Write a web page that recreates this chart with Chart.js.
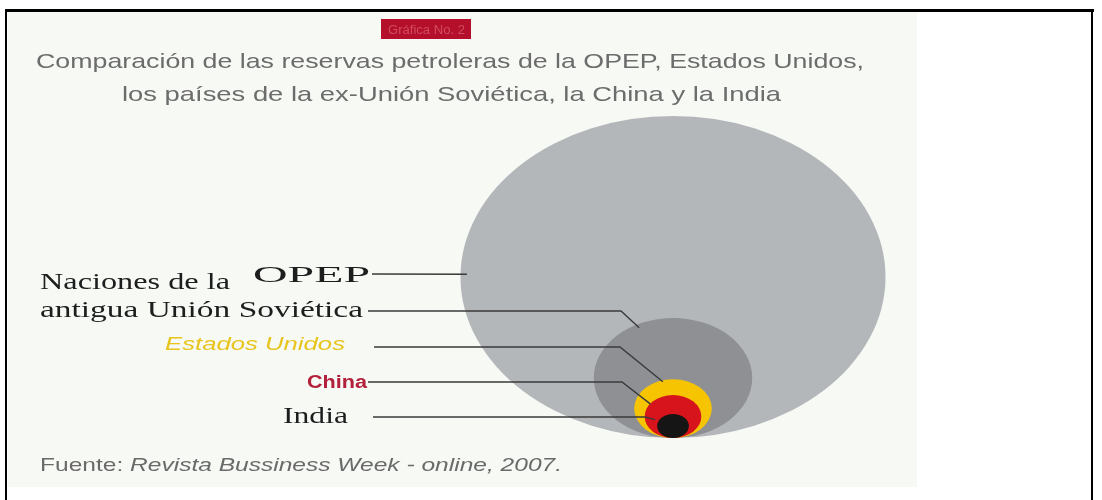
<!DOCTYPE html>
<html lang="es">
<head>
<meta charset="utf-8">
<title>Gráfica No. 2</title>
<script src="https://cdn.jsdelivr.net/npm/chart.js@4.4.1/dist/chart.umd.min.js"></script>
<style>
  html, body { margin: 0; padding: 0; background: #fff; }
  #wrap { width: 1102px; height: 500px; }
</style>
</head>
<body>
<div id="wrap"><canvas id="reservas" width="1102" height="500"></canvas></div>
<script>
// datos (reservas en miles de millones de barriles, leidos por el area de cada circulo)
const categories = ['OPEP', 'Naciones de la antigua Unión Soviética', 'Estados Unidos', 'China', 'India'];
const reserves = [900, 125, 30, 16, 5];
const bubbleColors = ['#b4b7ba', '#8e9093', '#f6c400', '#d7131c', '#151515'];
const badgeText = 'Gráfica No. 2';
const titleLines = [
  'Comparación de las reservas petroleras de la OPEP, Estados Unidos,',
  'los países de la ex-Unión Soviética, la China y la India'
];
const sourceLabel = 'Fuente:';
const sourceText = 'Revista Bussiness Week - online, 2007.';

// layout
const W = 1102, H = 500;
const CX = 673;        // centro horizontal de los circulos
const BASE_Y = 438;    // linea donde se tocan todos los circulos
const MAX_R = 161;     // radio del circulo mayor
const SX = 1.32;       // la imagen original esta estirada a lo ancho
const SERIF = '"Liberation Serif", "DejaVu Serif", serif';
const SANS = '"Liberation Sans", Arial, sans-serif';

const radii = reserves.map(v => MAX_R * Math.sqrt(v / reserves[0]));

// cajas de texto de las etiquetas y sus lineas guia
const labelLayout = [
  { lines: [['OPEP', 253, 282, 117]], font: '24px ' + SERIF, color: '#1d1d1d',
    from: [372, 274], elbow: null, angle: 181, k: 0.97 },
  { lines: [['Naciones de la', 40, 289, 190], ['antigua Unión Soviética', 40, 317, 323]],
    font: '24px ' + SERIF, color: '#1d1d1d', from: [368, 311], elbow: 621, angle: 243, k: 0.94 },
  { lines: [['Estados Unidos', 165, 350, 180]], font: 'italic 18px ' + SANS, color: '#e8c41c',
    from: [374, 347], elbow: 620, angle: 254, k: 0.95 },
  { lines: [['China', 307, 388, 60]], font: 'bold 18px ' + SANS, color: '#b2203a',
    from: [368, 382], elbow: 622, angle: 216, k: 0.98 },
  { lines: [['India', 283, 423, 65]], font: '24px ' + SERIF, color: '#1d1d1d',
    from: [373, 417], elbow: 645, angle: 205, k: 1.25 }
];

function fitText(ctx, str, x, y, w, font, color) {
  ctx.save();
  ctx.font = font;
  const m = ctx.measureText(str).width || 1;
  ctx.translate(x, y);
  ctx.scale(w / m, 1);
  ctx.fillStyle = color;
  ctx.textAlign = 'left';
  ctx.textBaseline = 'alphabetic';
  ctx.fillText(str, 0, 0);
  ctx.restore();
}

const framePlugin = {
  id: 'frame',
  beforeDraw(chart) {
    const ctx = chart.ctx;
    ctx.save();
    ctx.fillStyle = '#ffffff';
    ctx.fillRect(0, 0, W, H);
    ctx.fillStyle = '#f7f9f5';
    ctx.fillRect(8, 12, 909, 475);
    ctx.strokeStyle = '#000';
    ctx.lineWidth = 3;
    ctx.beginPath();
    ctx.moveTo(5, 10.5); ctx.lineTo(1094, 10.5);
    ctx.stroke();
    ctx.lineWidth = 2;
    ctx.beginPath();
    ctx.moveTo(6, 9); ctx.lineTo(6, H);
    ctx.moveTo(1092, 9); ctx.lineTo(1092, H);
    ctx.stroke();
    // etiqueta roja
    ctx.fillStyle = '#b5102b';
    ctx.fillRect(381, 19, 90, 20);
    ctx.restore();
    fitText(ctx, badgeText, 388, 34, 77, '12px ' + SANS, '#d24a60');
    fitText(ctx, titleLines[0], 36, 68, 828, '21px ' + SANS, '#6c6c6c');
    fitText(ctx, titleLines[1], 122, 101, 659, '21px ' + SANS, '#6c6c6c');
    // fuente
    ctx.save();
    ctx.font = '19px ' + SANS;
    const w1 = ctx.measureText(sourceLabel + ' ').width;
    const w0 = ctx.measureText(sourceLabel).width;
    ctx.font = 'italic 19px ' + SANS;
    const w2 = ctx.measureText(sourceText).width;
    ctx.restore();
    const s = 522 / (w1 + w2);
    fitText(ctx, sourceLabel, 40, 471, s * w0, '19px ' + SANS, '#6a6a6a');
    fitText(ctx, sourceText, 40 + s * w1, 471, s * w2, 'italic 19px ' + SANS, '#6a6a6a');
  },
  beforeDatasetsDraw(chart) {
    const ctx = chart.ctx;
    ctx.save();
    ctx.translate(CX, 0);
    ctx.scale(SX, 1);
    ctx.translate(-CX, 0);
  },
  afterDatasetsDraw(chart) {
    chart.ctx.restore();
  },
  afterDraw(chart) {
    const ctx = chart.ctx;
    const pts = chart.getDatasetMeta(0).data;
    labelLayout.forEach((lab, i) => {
      lab.lines.forEach(l => fitText(ctx, l[0], l[1], l[2], l[3], lab.font, lab.color));
      const p = pts[i];
      const r = p.options.radius * lab.k;
      const a = lab.angle * Math.PI / 180;
      const ex = CX + (p.x - CX) * SX + Math.cos(a) * r * SX;
      const ey = p.y + Math.sin(a) * r;
      ctx.save();
      ctx.strokeStyle = '#3a3a3a';
      ctx.lineWidth = 1.4;
      ctx.beginPath();
      ctx.moveTo(lab.from[0], lab.from[1]);
      if (lab.elbow !== null) ctx.lineTo(lab.elbow, lab.from[1]);
      ctx.lineTo(ex, ey);
      ctx.stroke();
      ctx.restore();
    });
  }
};

new Chart(document.getElementById('reservas'), {
  type: 'bubble',
  data: {
    datasets: [{
      label: 'Reservas petroleras',
      data: reserves.map((v, i) => ({ x: 0, y: radii[i], r: radii[i] })),
      backgroundColor: bubbleColors,
      borderWidth: 0,
      hoverBorderWidth: 0,
      hoverRadius: 0,
      clip: false
    }]
  },
  options: {
    responsive: false,
    animation: false,
    devicePixelRatio: 1,
    events: [],
    layout: { autoPadding: false, padding: 0 },
    scales: {
      x: { type: 'linear', display: false, min: -CX, max: W - CX },
      y: { type: 'linear', display: false, min: -(H - BASE_Y), max: BASE_Y }
    },
    plugins: {
      legend: { display: false },
      tooltip: { enabled: false },
      title: { display: false }
    }
  },
  plugins: [framePlugin]
});
</script>
</body>
</html>
